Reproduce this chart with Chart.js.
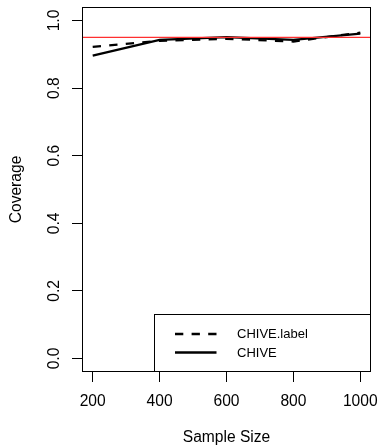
<!DOCTYPE html>
<html><head><meta charset="utf-8">
<script src="https://cdn.jsdelivr.net/npm/chart.js@4"></script>
<style>html,body{margin:0;padding:0;background:#fff}#wrap{width:379px;height:448px}</style>
</head><body><div id="wrap"><canvas id="c" width="379" height="448"></canvas></div>
<script>
const sampleSizes = [200, 400, 600, 800, 1000];
const coverageChiveLabel = [0.922, 0.940, 0.946, 0.938, 0.964];
const coverageChive = [0.896, 0.943, 0.951, 0.943, 0.961];
const targetCoverage = 0.95;
const xTickValues = [200, 400, 600, 800, 1000];
const yTickValues = [0.0, 0.2, 0.4, 0.6, 0.8, 1.0];
const seriesNames = ['CHIVE.label', 'CHIVE'];
const xTitle = 'Sample Size';
const yTitle = 'Coverage';

const FONT = 'Liberation Sans, Arial, Helvetica, sans-serif';

const overlay = {
  id: 'overlay',
  afterDatasetsDraw(chart) {
    const {ctx, chartArea: a, scales: {y}} = chart;
    ctx.save();
    const yp = y.getPixelForValue(targetCoverage);
    ctx.strokeStyle = '#ff3030';
    ctx.lineWidth = 1.2;
    ctx.beginPath(); ctx.moveTo(a.left, yp); ctx.lineTo(a.right, yp); ctx.stroke();
    ctx.strokeStyle = '#000';
    ctx.lineWidth = 1;
    const L = Math.round(a.left) + 0.5, T = Math.round(a.top) + 0.5;
    const R = Math.round(a.right) - 0.5, B = Math.round(a.bottom) - 0.5;
    ctx.strokeRect(L, T, R - L, B - T);
    const lw = 216, lh = 57;
    const lx = R - lw, ly = B - lh;
    ctx.fillStyle = '#fff';
    ctx.fillRect(lx, ly, lw, lh);
    ctx.strokeRect(lx, ly, lw, lh);
    const rows = [ly + 19.5, ly + 38];
    chart.data.datasets.forEach((ds, i) => {
      const ry = rows[i];
      ctx.save();
      ctx.strokeStyle = ds.borderColor;
      ctx.lineWidth = ds.borderWidth;
      ctx.setLineDash(ds.borderDash || []);
      ctx.beginPath(); ctx.moveTo(lx + 20.5, ry); ctx.lineTo(lx + 62, ry); ctx.stroke();
      ctx.restore();
      ctx.fillStyle = '#000';
      ctx.font = '13px ' + FONT;
      ctx.textBaseline = 'middle';
      ctx.textAlign = 'left';
      ctx.fillText(ds.label, lx + 82.5, ry + 0.5);
    });
    ctx.restore();
  }
};

function zeroPad(s) { s.paddingLeft = 0; s.paddingRight = 0; s.paddingTop = 0; s.paddingBottom = 0; }

new Chart(document.getElementById('c'), {
  type: 'line',
  data: {
    datasets: [
      {label: seriesNames[0], data: sampleSizes.map((s, i) => ({x: s, y: coverageChiveLabel[i]})),
       borderColor: '#000', borderWidth: 2.3, borderDash: [8.3, 8.3], borderCapStyle: 'butt',
       pointRadius: 0, tension: 0, fill: false},
      {label: seriesNames[1], data: sampleSizes.map((s, i) => ({x: s, y: coverageChive[i]})),
       borderColor: '#000', borderWidth: 2.3, borderDash: [], borderCapStyle: 'butt',
       pointRadius: 0, tension: 0, fill: false}
    ]
  },
  options: {
    responsive: false, animation: false, devicePixelRatio: 1,
    layout: {padding: {left: 0, top: 7, right: 8, bottom: 0}},
    plugins: {legend: {display: false}, tooltip: {enabled: false}},
    scales: {
      x: {
        type: 'linear', min: 168, max: 1032,
        afterBuildTicks: s => { s.ticks = xTickValues.map(v => ({value: v})); },
        afterFit: s => { s.height = 76; zeroPad(s); },
        grid: {drawOnChartArea: false, drawTicks: true, tickLength: 10, color: '#000', tickWidth: 1},
        border: {display: false},
        ticks: {font: {family: FONT, size: 15.6}, color: '#000', padding: 10, maxRotation: 0, autoSkip: false,
                callback: v => String(v)},
        title: {display: true, text: xTitle, color: '#000', font: {family: FONT, size: 15.6},
                padding: {top: 0, bottom: 1}}
      },
      y: {
        type: 'linear', min: -0.04, max: 1.04,
        afterBuildTicks: s => { s.ticks = yTickValues.map(v => ({value: v})); },
        afterFit: s => { s.width = 82; zeroPad(s); },
        grid: {drawOnChartArea: false, drawTicks: true, tickLength: 10, color: '#000', tickWidth: 1},
        border: {display: false},
        ticks: {font: {family: FONT, size: 15.6}, color: '#000', padding: 6.5, minRotation: 90, maxRotation: 90,
                crossAlign: 'center', autoSkip: false, callback: v => Number(v).toFixed(1)},
        title: {display: true, text: yTitle, color: '#000', font: {family: FONT, size: 15.6},
                padding: {top: 7.6, bottom: 0}}
      }
    }
  },
  plugins: [overlay]
});
</script>
</body></html>
